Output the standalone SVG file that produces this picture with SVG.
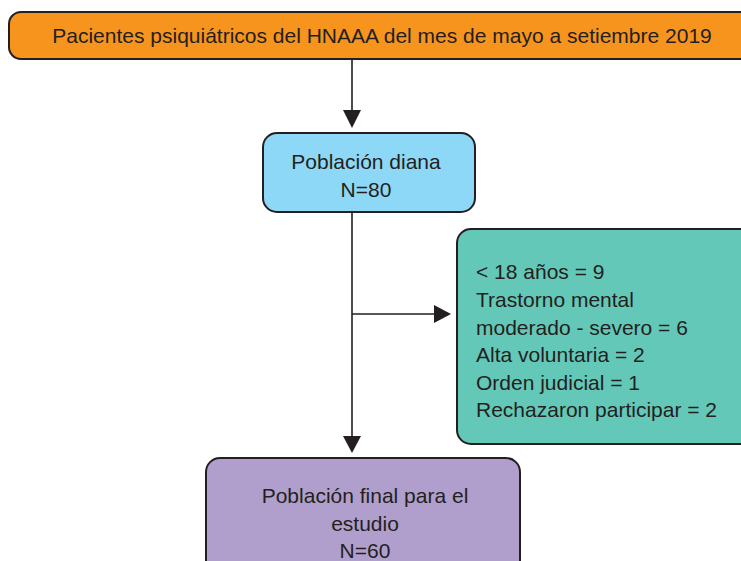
<svg xmlns="http://www.w3.org/2000/svg" width="741" height="561" viewBox="0 0 741 561">
<defs>
<style>
.box{stroke:#231f20;stroke-width:2}
.t{font-family:"Liberation Sans",Arial,sans-serif;font-size:21px;fill:#231f20}
.c{text-anchor:middle}
.ln{stroke:#231f20;stroke-width:1.6;fill:none}
</style>
</defs>
<rect width="741" height="561" fill="#ffffff"/>
<g id="connectors">
<line class="ln" x1="352" y1="59" x2="352" y2="110"/>
<path d="M343,110 L361,110 L352,128 Z" fill="#231f20"/>
<line class="ln" x1="352" y1="212" x2="352" y2="436"/>
<path d="M343,436 L361,436 L352,453 Z" fill="#231f20"/>
<line class="ln" x1="352" y1="314" x2="434" y2="314"/>
<path d="M434,305 L434,323 L451,314 Z" fill="#231f20"/>
</g>
<g id="n1">
<rect class="box" x="9" y="12" width="750" height="47" rx="12" fill="#f7941d"/>
<text class="t c" x="382" y="43">Pacientes psiquiátricos del HNAAA del mes de mayo a setiembre 2019</text>
</g>
<g id="n2">
<rect class="box" x="263" y="133" width="212" height="79" rx="14" fill="#8dd8f6"/>
<text class="t c" x="366" y="169">Población diana</text>
<text class="t c" x="366" y="197">N=80</text>
</g>
<g id="n3">
<rect class="box" x="457" y="229" width="300" height="215" rx="14" fill="#64c8b8"/>
<text class="t" x="476" y="279">&lt; 18 años = 9</text>
<text class="t" x="476" y="307">Trastorno mental</text>
<text class="t" x="476" y="335">moderado - severo = 6</text>
<text class="t" x="476" y="362">Alta voluntaria = 2</text>
<text class="t" x="476" y="390">Orden judicial = 1</text>
<text class="t" x="476" y="417">Rechazaron participar = 2</text>
</g>
<g id="n4">
<rect class="box" x="206" y="458" width="314" height="120" rx="14" fill="#b09fcc"/>
<text class="t c" x="365" y="503">Población final para el</text>
<text class="t c" x="365" y="531">estudio</text>
<text class="t c" x="365" y="558">N=60</text>
</g>
</svg>
